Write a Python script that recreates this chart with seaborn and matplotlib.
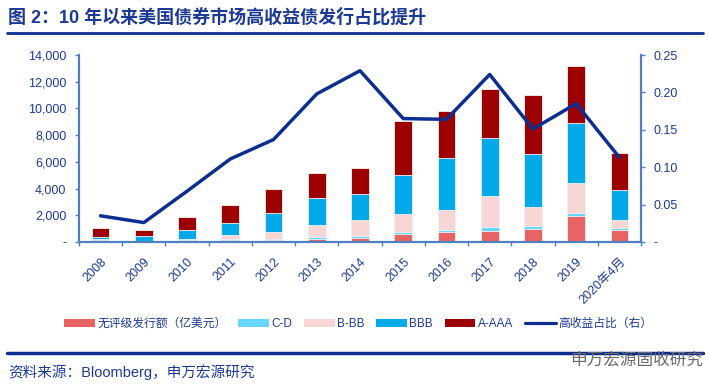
import numpy as np
import pandas as pd
import matplotlib
matplotlib.use("Agg")
import matplotlib.pyplot as plt
from matplotlib.patches import Patch
from matplotlib.lines import Line2D
from matplotlib.ticker import FuncFormatter, MultipleLocator
import seaborn as sns

sns.set_theme(style="white")
plt.rcParams["font.family"] = ["Liberation Sans", "Noto Sans CJK SC", "DejaVu Sans"]

# === data ===
years = ["2008", "2009", "2010", "2011", "2012", "2013", "2014",
         "2015", "2016", "2017", "2018", "2019", "2020年4月"]
unrated = [150, 20, 100, 175, 175, 250, 300, 625, 725, 850, 950, 1975, 900]
c_d = [30, 10, 30, 25, 75, 150, 150, 100, 150, 250, 225, 200, 150]
b_bb = [60, 20, 125, 300, 500, 900, 1175, 1400, 1500, 2325, 1450, 2250, 625]
bbb = [150, 375, 625, 925, 1450, 1975, 1950, 2925, 3950, 4325, 3950, 4475, 2200]
a_aaa = [650, 450, 1000, 1375, 1800, 1875, 1975, 4000, 3500, 3700, 4425, 4275, 2800]
hy_ratio = [0.035, 0.026, 0.068, 0.111, 0.137, 0.198, 0.229,
            0.165, 0.164, 0.224, 0.151, 0.185, 0.113]

series = ["无评级发行额（亿美元）", "C-D", "B-BB", "BBB", "A-AAA"]
colors = ["#E86464", "#66D6FF", "#F9D6D6", "#00AAE8", "#9C0000"]
line_color = "#0B2E8F"
text_color = "#1C3A94"
spine_color = "#4F81BD"

df = pd.DataFrame({"year": years, series[0]: unrated, series[1]: c_d,
                   series[2]: b_bb, series[3]: bbb, series[4]: a_aaa})
cum = df[series].cumsum(axis=1)

# === figure ===
fig = plt.figure(figsize=(7.09, 3.92), dpi=100)
ax = fig.add_axes([79 / 709, 1 - 242 / 392, 562 / 709, 187 / 392])

# stacked bars: draw the running totals from the top layer down
for name, col in reversed(list(zip(series, colors))):
    sns.barplot(x=df["year"], y=cum[name], color=col, width=0.41, ax=ax,
                edgecolor="#f2f2f2", linewidth=0.6, saturation=1)

ax.set_ylim(0, 14000)
ax.set_xlim(-0.5, len(years) - 0.5)
ax.yaxis.set_major_locator(MultipleLocator(2000))
ax.yaxis.set_major_formatter(FuncFormatter(lambda v, p: "-" if v == 0 else f"{v:,.0f}"))
ax.set_xlabel("")
ax.set_ylabel("")

ax2 = ax.twinx()
sns.pointplot(x=df["year"], y=hy_ratio, ax=ax2, color=line_color,
              marker="", linewidth=2.5)
ax2.set_ylim(0, 0.25)
ax2.set_xlim(-0.5, len(years) - 0.5)
ax2.yaxis.set_major_locator(MultipleLocator(0.05))
ax2.yaxis.set_major_formatter(FuncFormatter(lambda v, p: "-" if v == 0 else f"{v:.2f}"))
ax2.set_ylabel("")

for a in (ax, ax2):
    for s in a.spines.values():
        s.set_visible(False)
ax.spines["left"].set_visible(True)
ax.spines["bottom"].set_visible(True)
ax2.spines["right"].set_visible(True)
for s in (ax.spines["left"], ax.spines["bottom"], ax2.spines["right"]):
    s.set_color(spine_color)
    s.set_linewidth(1.6)

ax.tick_params(axis="y", left=True, length=3, width=1, color=spine_color,
               labelsize=9, labelcolor=text_color, pad=6)
ax2.tick_params(axis="y", right=True, length=3, width=1, color=spine_color,
                labelsize=9, labelcolor=text_color, pad=6)
ax.set_xticks(np.arange(len(years) + 1) - 0.5, minor=True)
ax.tick_params(axis="x", which="minor", bottom=True, length=3, width=1, color=spine_color)
ax.tick_params(axis="x", which="major", bottom=False, labelsize=9,
               labelcolor=text_color, pad=4)
ax.set_xticks(range(len(years)))
ax.set_xticklabels(years, rotation=45, ha="right", rotation_mode="anchor")
ax.grid(False)
ax2.grid(False)

# legend
handles = [Patch(facecolor=c, edgecolor="none") for c in colors]
handles.append(Line2D([0], [0], color=line_color, lw=2.3))
labels = series + ["高收益占比（右）"]
leg = fig.legend(handles, labels, loc="center", bbox_to_anchor=(0.505, 1 - 324 / 392),
                 ncol=6, frameon=False, fontsize=8.5, handlelength=2.6,
                 handleheight=0.6, handletextpad=0.2, columnspacing=1.0)
for t in leg.get_texts():
    t.set_color(text_color)

# title, rules and source
fig.text(8 / 709, 1 - 17 / 392, "图 2：10 年以来美国债券市场高收益债发行占比提升",
         fontsize=13, fontweight="bold", color=text_color, va="center", ha="left")
fig.add_artist(Line2D([7 / 709, 703 / 709], [1 - 33 / 392] * 2,
                      transform=fig.transFigure, color=line_color, lw=2))
fig.add_artist(Line2D([7 / 709, 703 / 709], [1 - 353 / 392] * 2,
                      transform=fig.transFigure, color=line_color, lw=2.5))
fig.text(8 / 709, 1 - 372 / 392, "资料来源：Bloomberg，申万宏源研究",
         fontsize=10.5, color=text_color, va="center", ha="left")
fig.text(703 / 709, 1 - 360 / 392, "申万宏源固收研究",
         fontsize=12, color="#6a6a6a", va="center", ha="right")

fig.savefig("out.png", dpi=100)
